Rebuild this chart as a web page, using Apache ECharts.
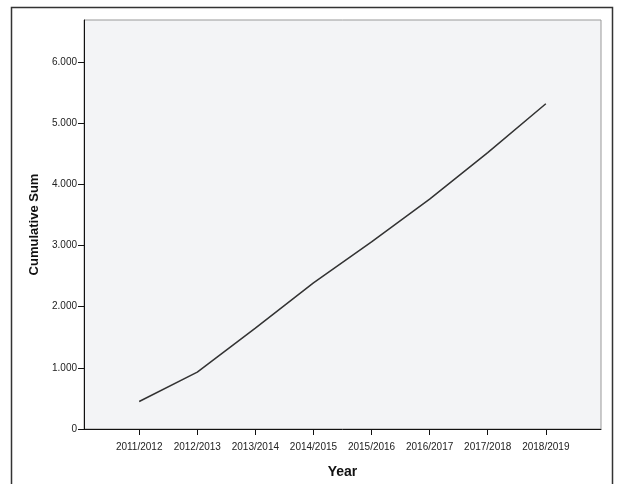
<!DOCTYPE html>
<html>
<head>
<meta charset="utf-8">
<script src="https://cdn.jsdelivr.net/npm/echarts@6/dist/echarts.min.js"></script>
<style>
  html, body { margin: 0; padding: 0; background: #fff; }
  #chart { width: 617px; height: 484px; }
</style>
</head>
<body>
<div id="chart"></div>
<script>
// 学年分类与累计值
const years = ['2011/2012', '2012/2013', '2013/2014', '2014/2015', '2015/2016', '2016/2017', '2017/2018', '2018/2019']
const cumulativeSum = [450, 930, 1650, 2390, 3060, 3760, 4520, 5320]
const yTicks = [0, 1000, 2000, 3000, 4000, 5000, 6000]

const font = 'Liberation Sans, Arial, sans-serif'
const xIdx = years.map((_, i) => i)

// 千位分隔符用点号
const fmtNum = v => String(v).replace(/\B(?=(\d{3})+(?!\d))/g, '.')

const chart = echarts.init(document.getElementById('chart'))

const option = {
  animation: false,
  backgroundColor: '#fff',
  textStyle: { fontFamily: font },
  graphic: [
    {
      type: 'rect',
      shape: { x: 11.5, y: 7.5, width: 601, height: 490 },
      style: { fill: 'none', stroke: '#333', lineWidth: 1.5 },
      z: -1
    }
  ],
  grid: {
    left: 84,
    top: 20,
    right: 16,
    bottom: 49,
    show: true,
    backgroundColor: '#f3f4f6',
    borderColor: '#999',
    borderWidth: 1
  },
  xAxis: {
    type: 'value',
    min: -0.95,
    max: 7.95,
    name: 'Year',
    nameLocation: 'middle',
    nameGap: 36,
    nameTextStyle: { fontSize: 14, fontWeight: 'bold', color: '#111', fontFamily: font },
    axisLine: { show: true, onZero: false, lineStyle: { color: '#111', width: 1 } },
    axisTick: { show: true, inside: false, length: 6, customValues: xIdx, lineStyle: { color: '#111' } },
    axisLabel: {
      customValues: xIdx,
      fontSize: 10,
      color: '#222',
      margin: 13,
      formatter: v => years[Math.round(v)] || ''
    },
    splitLine: { show: false }
  },
  yAxis: {
    type: 'value',
    min: 0,
    max: 6690,
    name: 'Cumulative Sum',
    nameLocation: 'middle',
    nameGap: 41,
    nameTextStyle: { fontSize: 13, fontWeight: 'bold', color: '#111', fontFamily: font },
    axisLine: { show: true, onZero: false, lineStyle: { color: '#111', width: 1 } },
    axisTick: { show: true, inside: false, length: 6, customValues: yTicks, lineStyle: { color: '#111' } },
    axisLabel: {
      customValues: yTicks,
      fontSize: 10,
      color: '#222',
      margin: 7,
      formatter: v => fmtNum(v)
    },
    splitLine: { show: false }
  },
  series: [
    {
      type: 'line',
      data: cumulativeSum.map((v, i) => [i, v]),
      showSymbol: false,
      lineStyle: { color: '#333', width: 1.5 }
    }
  ]
}

chart.setOption(option)
</script>
</body>
</html>
